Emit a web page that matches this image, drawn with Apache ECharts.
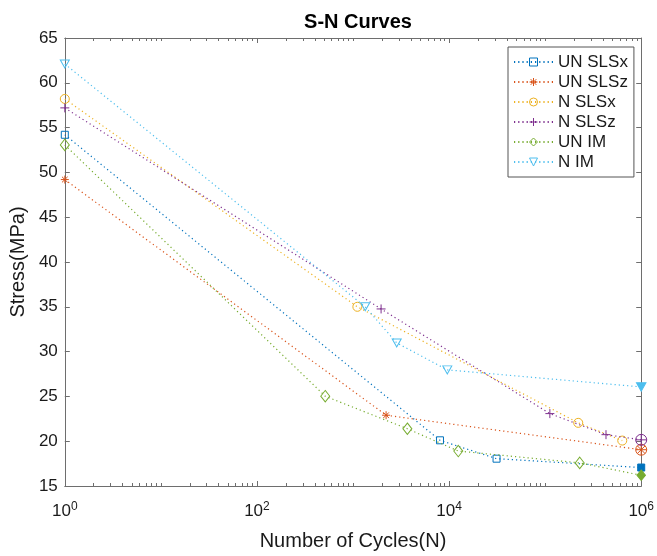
<!DOCTYPE html>
<html><head><meta charset="utf-8">
<script src="https://cdn.jsdelivr.net/npm/echarts@6/dist/echarts.min.js"></script>
<style>html,body{margin:0;padding:0;background:#fff}#c{width:657px;height:556px}</style>
</head><body><div id="c"></div>
<script>
// ---- data ----
const seriesNames = ['UN SLSx', 'UN SLSz', 'N SLSx', 'N SLSz', 'UN IM', 'N IM'];
const cyclesUNSLSx = [1, 8040, 31200, 1e6];
const stressUNSLSx = [54.2, 20.1, 18.05, 17.06];
const cyclesUNSLSz = [1, 2210, 1e6];
const stressUNSLSz = [49.2, 22.9, 19.05];
const cyclesNSLSx = [1, 1110, 221000, 635000];
const stressNSLSx = [58.2, 35.0, 22.05, 20.07];
const cyclesNSLSz = [1, 1960, 112000, 430000, 1e6];
const stressNSLSz = [57.2, 34.76, 23.08, 20.73, 20.15];
const cyclesUNIM = [1, 514, 3680, 12470, 229000, 1e6];
const stressUNIM = [53.07, 25.02, 21.39, 18.9, 17.58, 16.2];
const cyclesNIM = [1, 1340, 2850, 9580, 1e6];
const stressNIM = [62.1, 35.0, 30.97, 27.96, 26.06];
const xMajorTicks = [1, 100, 10000, 1000000];
const xTickExponents = ['0', '2', '4', '6'];
const yMin = 15, yMax = 65, yStep = 5;

// ---- styles ----
const colors = ['#0072BD', '#D95319', '#EDB120', '#7E2F8E', '#77AC30', '#4DBEEE'];
const P = {
  square: 'path://M0,0L10,0L10,10L0,10Z',
  circle: 'path://M0,5A5,5,0,1,1,10,5A5,5,0,1,1,0,5Z',
  plus: 'path://M5,0L5,10M0,5L10,5',
  star: 'path://M5,0L5,10M0,5L10,5M1.46,1.46L8.54,8.54M8.54,1.46L1.46,8.54',
  diamond: 'path://M5,0L10,5L5,10L0,5Z',
  tri: 'path://M0,0L10,0L5,9Z',
  circPlus: 'path://M0,5A5,5,0,1,1,10,5A5,5,0,1,1,0,5ZM5,0L5,10M0,5L10,5',
  circStar: 'path://M0,5A5,5,0,1,1,10,5A5,5,0,1,1,0,5ZM5,0L5,10M0,5L10,5M1.46,1.46L8.54,8.54M8.54,1.46L1.46,8.54'
};
const seriesSymbols = [P.square, P.star, P.circle, P.plus, P.diamond, P.tri];
const minorTicks = [];
for (let e = 0; e < 6; e++) for (let m = 2; m <= 10; m++) {
  const v = m * Math.pow(10, e);
  if (xMajorTicks.indexOf(v) < 0) minorTicks.push(v);
}

function mk(i, xs, ys, size, last) {
  const c = colors[i];
  const data = xs.map((x, k) => [x, ys[k]]);
  if (last) {
    const n = data.length - 1;
    data[n] = Object.assign({ value: data[n] }, last(c));
  }
  return {
    name: seriesNames[i], type: 'line', data: data, symbol: seriesSymbols[i], symbolSize: size,
    showAllSymbol: true, clip: false, z: 2 + i,
    lineStyle: { color: c, width: 1.2, type: [1.2, 3] },
    itemStyle: { color: 'rgba(0,0,0,0)', borderColor: c, borderWidth: 1 },
    emphasis: { disabled: true }
  };
}

const series = [
  mk(0, cyclesUNSLSx, stressUNSLSx, 7, c => ({ symbol: P.square, symbolSize: 7, itemStyle: { color: c } })),
  mk(1, cyclesUNSLSz, stressUNSLSz, 8, c => ({ symbol: P.circStar, symbolSize: 11 })),
  mk(2, cyclesNSLSx, stressNSLSx, 9, null),
  mk(3, cyclesNSLSz, stressNSLSz, 9, c => ({ symbol: P.circPlus, symbolSize: 11 })),
  mk(4, cyclesUNIM, stressUNIM, [9, 11.5], c => ({ symbol: P.diamond, symbolSize: [8.5, 10.5], itemStyle: { color: c } })),
  mk(5, cyclesNIM, stressNIM, [9, 8], c => ({ symbol: P.tri, symbolSize: [9.5, 8.5], itemStyle: { color: c } }))
];

const FONT = '"Liberation Sans", Arial, Helvetica, sans-serif';
const axisCol = '#6e6e6e';
const txtCol = '#1a1a1a';

function xAx(pos, major, showLine, showLabel) {
  return {
    type: 'log', logBase: 10, min: 1, max: 1e6, position: pos, gridIndex: 0,
    axisLine: { show: showLine, lineStyle: { color: axisCol, width: 1 } },
    axisTick: { show: true, inside: true, length: major ? 5 : 3, customValues: major ? xMajorTicks : minorTicks,
      lineStyle: { color: axisCol, width: 1 } },
    axisLabel: {
      show: showLabel, customValues: xMajorTicks, margin: 15, fontFamily: FONT,
      formatter: function (v) {
        const idx = xMajorTicks.indexOf(Math.round(v));
        return '10{sup|' + (idx >= 0 ? xTickExponents[idx] : '') + '}';
      },
      color: txtCol, fontSize: 17,
      rich: { sup: { fontSize: 12, fontFamily: FONT, color: txtCol, verticalAlign: 'bottom', padding: [0, 0, 9, 0] } }
    },
    splitLine: { show: false }, minorTick: { show: false }
  };
}
function yAx(pos, showLabel) {
  return {
    type: 'value', min: yMin, max: yMax, interval: yStep, position: pos, gridIndex: 0,
    axisLine: { show: true, lineStyle: { color: axisCol, width: 1 } },
    axisTick: { show: true, inside: true, length: 5, lineStyle: { color: axisCol, width: 1 } },
    axisLabel: { show: showLabel, margin: 7, fontSize: 17, color: txtCol, fontFamily: FONT },
    splitLine: { show: false }
  };
}

const xAxes = [xAx('bottom', true, true, true), xAx('bottom', false, false, false),
               xAx('top', true, true, false), xAx('top', false, false, false)];
xAxes[0].name = 'Number of Cycles(N)';
xAxes[0].nameLocation = 'middle';
xAxes[0].nameGap = 45;
xAxes[0].nameTextStyle = { fontSize: 20, color: txtCol, fontFamily: FONT };
const yAxes = [yAx('left', true), yAx('right', false)];
yAxes[0].name = 'Stress(MPa)';
yAxes[0].nameLocation = 'middle';
yAxes[0].nameGap = 31;
yAxes[0].nameTextStyle = { fontSize: 20, color: txtCol, fontFamily: FONT };

const legendData = seriesNames.map((n, i) => ({
  name: n,
  itemStyle: { color: 'rgba(0,0,0,0)', borderColor: colors[i], borderWidth: 1 }
}));

const chart = echarts.init(document.getElementById('c'), null, { renderer: 'canvas' });
chart.setOption({
  animation: false,
  backgroundColor: '#fff',
  title: {
    text: 'S-N Curves', left: 353, top: 7, textAlign: 'center',
    textStyle: { fontSize: 20, fontWeight: 'bold', color: '#000', fontFamily: FONT }
  },
  grid: { left: 64, right: 15.3, top: 38, bottom: 63.3, containLabel: false },
  xAxis: xAxes,
  yAxis: yAxes,
  legend: {
    orient: 'vertical', left: 508, top: 47, padding: [5, 6, 5, 5],
    itemWidth: 39, itemHeight: 10, itemGap: 0,
    backgroundColor: '#fff', borderColor: '#555', borderWidth: 1,
    itemStyle: { color: 'rgba(0,0,0,0)', borderWidth: 1 },
    textStyle: { fontSize: 17, lineHeight: 20, color: txtCol, fontFamily: FONT },
    data: legendData
  },
  series: series
});
</script>
</body></html>
